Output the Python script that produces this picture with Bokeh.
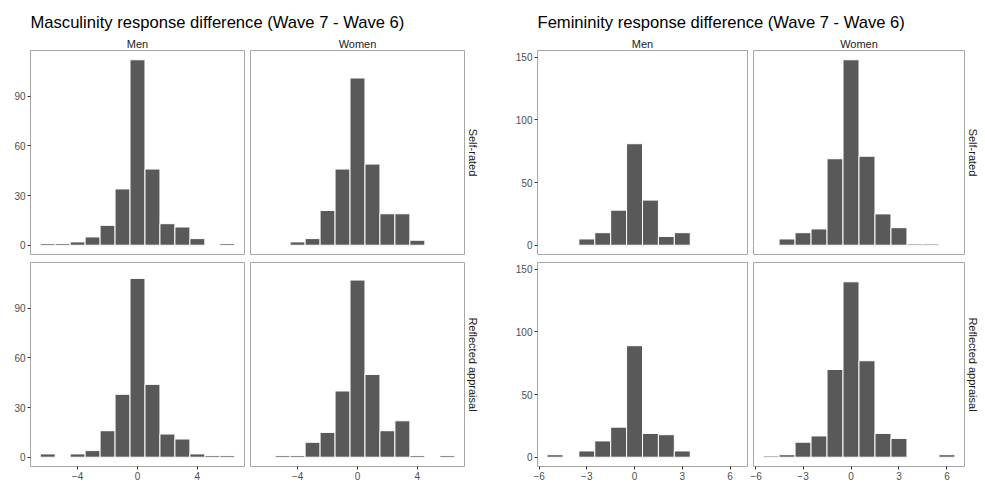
from bokeh.plotting import figure
from bokeh.layouts import column, row
from bokeh.models import Range1d, Title
from bokeh.core.properties import value
from bokeh.embed import file_html
from bokeh.resources import INLINE

# ---- data (histogram counts per integer bin, Wave 7 - Wave 6) ----
bins = [-6, -5, -4, -3, -2, -1, 0, 1, 2, 3, 4, 5, 6]

masc_men_self = [1, 1, 2, 5, 12, 34, 112, 46, 13, 11, 4, 0, 1]
masc_women_self = [0, 0, 2, 4, 21, 46, 101, 49, 19, 19, 3, 0, 0]
masc_men_refl = [2, 0, 2, 4, 16, 38, 108, 44, 14, 11, 2, 1, 1]
masc_women_refl = [0, 1, 1, 9, 15, 40, 107, 50, 16, 22, 1, 0, 1]

fem_men_self = [0, 0, 0, 5, 10, 28, 81, 36, 7, 10, 0, 0, 0]
fem_women_self = [0, 0, 5, 10, 13, 69, 148, 71, 25, 14, 1, 1, 0]
fem_men_refl = [0, 2, 0, 5, 13, 24, 89, 19, 18, 5, 0, 0, 0]
fem_women_refl = [0, 1, 2, 12, 17, 70, 140, 77, 19, 15, 0, 0, 2]

masc_xticks = [-4, 0, 4]
masc_yticks = [0, 30, 60, 90]
fem_xticks = [-6, -3, 0, 3, 6]
fem_yticks = [0, 50, 100, 150]

col_labels = ["Men", "Women"]
row_labels = ["Self-rated", "Reflected appraisal"]
titles = ["Masculinity response difference (Wave 7 - Wave 6)",
          "Femininity response difference (Wave 7 - Wave 6)"]

FONT = "Liberation Sans"
BAR = "#595959"
BORDER = "#a6a6a6"
TICK_FS = "10px"
STRIP_FS = "11px"


def data_range(vals_lists, xs):
    nz = [x for vals in vals_lists for x, v in zip(xs, vals) if v > 0]
    lo, hi = min(nz) - 0.5, max(nz) + 0.5
    pad = 0.05 * (hi - lo)
    ymax = max(max(v) for v in vals_lists)
    return (lo - pad, hi + pad), (-0.05 * ymax, ymax * 1.05)


def strip(text, side):
    return Title(text=text, align="center", text_font=FONT,
                 text_font_size=STRIP_FS, text_font_style="normal",
                 text_color="#1a1a1a", standoff=2 if side == "above" else 4)


def panel(xr, yr, counts, width, height, mb, show_x, show_y, xticks, yticks,
          top_label=None, right_label=None):
    p = figure(width=width, height=height, x_range=Range1d(*xr), y_range=Range1d(*yr),
               title=None, output_backend="svg", toolbar_location=None,
               x_axis_location="below" if show_x else None,
               y_axis_location="left" if show_y else None,
               min_border_left=mb[0], min_border_right=mb[1],
               min_border_top=mb[2], min_border_bottom=mb[3],
               background_fill_color="white", border_fill_color="white",
               outline_line_color=BORDER, outline_line_width=1)
    p.vbar(x=bins, top=counts, bottom=0, width=1.0, fill_color=BAR,
           line_color="white", line_width=1)
    p.grid.visible = False
    for ax, ticks in ((p.xaxis, xticks), (p.yaxis, yticks)):
        ax.ticker = ticks
        ax.axis_line_color = None
        ax.major_tick_in = 0
        ax.major_tick_out = 3
        ax.minor_tick_in = 0
        ax.minor_tick_out = 0
        ax.major_tick_line_color = "#333333"
        ax.major_label_text_color = "#4d4d4d"
        ax.major_label_text_font = FONT
        ax.major_label_text_font_size = TICK_FS
        ax.major_label_standoff = 2
    if top_label:
        p.add_layout(strip(top_label, "above"), "above")
    if right_label:
        p.add_layout(strip(right_label, "right"), "right")
    return p


def title_fig(text, width, height, tx, baseline):
    p = figure(width=width, height=height, x_range=Range1d(0, width), y_range=Range1d(0, height),
               title=None, output_backend="svg", toolbar_location=None,
               x_axis_location=None, y_axis_location=None,
               min_border_left=0, min_border_right=0, min_border_top=0, min_border_bottom=0,
               outline_line_color=None)
    p.grid.visible = False
    p.text(x=[tx], y=[height - baseline], text=[text], text_font=value(FONT),
           text_font_size="16.6px", text_color="#000000",
           text_align="left", text_baseline="alphabetic")
    return p


mxr, myr = data_range([masc_men_self, masc_women_self, masc_men_refl, masc_women_refl], bins)
fxr, fyr = data_range([fem_men_self, fem_women_self, fem_men_refl, fem_women_refl], bins)

TITLE_H = 34
TOP_H, BOT_H = 223, 225
TOP_MB = (16, 3)
BOT_MB = (5, 16)

groups = [
    (mxr, myr, masc_xticks, masc_yticks,
     [[masc_men_self, masc_women_self], [masc_men_refl, masc_women_refl]],
     [(247, 30, 3), (237, 3, 20)]),
    (fxr, fyr, fem_xticks, fem_yticks,
     [[fem_men_self, fem_women_self], [fem_men_refl, fem_women_refl]],
     [(266, 53, 3), (234, 3, 20)]),
]

top_row, bot_row = [], []
for xr, yr, xt, yt, data, widths in groups:
    for r in range(2):
        for c in range(2):
            w, ml, mr = widths[c]
            if r == 0:
                h, (mt, mbm) = TOP_H, TOP_MB
            else:
                h, (mt, mbm) = BOT_H, BOT_MB
            p = panel(xr, yr, data[r][c], w, h, (ml, mr, mt, mbm),
                      show_x=(r == 1), show_y=(c == 0), xticks=xt, yticks=yt,
                      top_label=col_labels[c] if r == 0 else None,
                      right_label=row_labels[r] if c == 1 else None)
            (top_row if r == 0 else bot_row).append(p)

t1 = title_fig(titles[0], 247 + 237, TITLE_H, 30, 22)
t2 = title_fig(titles[1], 266 + 234, TITLE_H, 53, 22)

layout = column(row(t1, t2), row(*top_row), row(*bot_row))

with open("out.html", "w") as f:
    f.write(file_html(layout, INLINE))
